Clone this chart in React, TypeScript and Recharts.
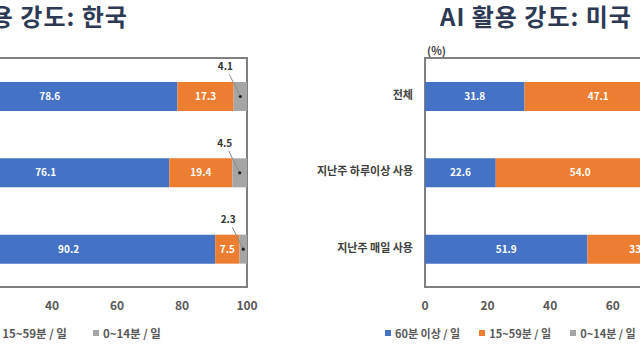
import React from 'react';
import {
  BarChart,
  Bar,
  XAxis,
  YAxis,
  LabelList,
  ReferenceArea,
} from 'recharts';

const categories = ['전체', '지난주 하루이상 사용', '지난주 매일 사용'];
const seriesNames = ['60분 이상 / 일', '15~59분 / 일', '0~14분 / 일'];
const xTicks = [0, 20, 40, 60, 80, 100];

// 한국
const korea60 = [78.6, 76.1, 90.2];
const korea15 = [17.3, 19.4, 7.5];
const korea0 = [4.1, 4.5, 2.3];

// 미국 (오른쪽 잘린 부분은 추정)
const us60 = [31.8, 22.6, 51.9];
const us15 = [47.1, 54.0, 33.4];
const us0 = [21.1, 23.4, 14.7];

const BLUE = '#4472C4';
const ORANGE = '#ED7D31';
const GRAY = '#A5A5A5';
const colors = [BLUE, ORANGE, GRAY];
const FONT = '"Noto Sans CJK KR", "Noto Sans", sans-serif';

const build = (a: number[], b: number[], c: number[]) =>
  categories.map((name, i) => ({ name, s60: a[i], s15: b[i], s0: c[i] }));

const koreaData = build(korea60, korea15, korea0);
const usData = build(us60, us15, us0);

const fmt = (v: any) => Number(v).toFixed(1);

const CalloutLabel = (props: any) => {
  const { x, y, width, height, value } = props;
  const cx = x + width / 2;
  const cy = y + height / 2;
  return (
    <g>
      <line x1={cx - 11} y1={cy - 22} x2={cx} y2={cy} stroke="#8c8c8c" strokeWidth={1} />
      <circle cx={cx} cy={cy} r={1.6} fill="#222" />
      <text
        x={cx - 15}
        y={cy - 29}
        textAnchor="middle"
        dominantBaseline="middle"
        fontSize={10}
        fontWeight={700}
        fill="#333"
        fontFamily={FONT}
      >
        {fmt(value)}
      </text>
    </g>
  );
};

const CategoryTick = (props: any) => {
  const { x, y, payload } = props;
  return (
    <text
      x={x}
      y={y}
      textAnchor="end"
      dominantBaseline="middle"
      fontSize={11}
      fontWeight={700}
      fill="#404040"
      fontFamily={FONT}
    >
      {payload.value}
    </text>
  );
};

const LegendRow = ({ left, gap, size }: { left: number; gap: number; size: number }) => (
  <div
    style={{
      position: 'absolute',
      left,
      top: 325,
      display: 'flex',
      gap,
      fontFamily: FONT,
      fontSize: size,
      fontWeight: 700,
      color: '#595959',
    }}
  >
    {seriesNames.map((n, i) => (
      <div key={n} style={{ display: 'flex', alignItems: 'center', whiteSpace: 'nowrap' }}>
        <span style={{ width: 6, height: 6, background: colors[i], marginRight: 4, display: 'inline-block' }} />
        {n}
      </div>
    ))}
  </div>
);

type PanelProps = {
  data: any[];
  yWidth: number;
  marginLeft: number;
  marginRight: number;
  callout: boolean;
};

const Panel = ({ data, yWidth, marginLeft, marginRight, callout }: PanelProps) => (
  <BarChart
    width={500}
    height={360}
    layout="vertical"
    data={data}
    margin={{ top: 58, right: marginRight, bottom: 40, left: marginLeft }}
  >
    <XAxis
      type="number"
      domain={[0, 100]}
      ticks={xTicks}
      axisLine={false}
      tickLine={false}
      tickSize={0}
      tickMargin={14}
      height={33}
      tick={{ fill: '#595959', fontSize: 12, fontWeight: 700, fontFamily: FONT }}
    />
    <YAxis
      type="category"
      dataKey="name"
      width={yWidth}
      axisLine={false}
      tickLine={false}
      tickSize={0}
      tickMargin={12}
      tick={<CategoryTick />}
    />
    <Bar dataKey="s60" name={seriesNames[0]} stackId="a" fill={BLUE} barSize={29} isAnimationActive={false}>
      <LabelList dataKey="s60" position="center" formatter={fmt} fill="#fff" fontSize={10} fontWeight={700} fontFamily={FONT} />
    </Bar>
    <Bar dataKey="s15" name={seriesNames[1]} stackId="a" fill={ORANGE} barSize={29} isAnimationActive={false}>
      <LabelList dataKey="s15" position="center" formatter={fmt} fill="#fff" fontSize={10} fontWeight={700} fontFamily={FONT} />
    </Bar>
    <Bar dataKey="s0" name={seriesNames[2]} stackId="a" fill={GRAY} barSize={29} isAnimationActive={false}>
      {callout ? (
        <LabelList dataKey="s0" content={CalloutLabel} />
      ) : (
        <LabelList dataKey="s0" position="center" formatter={fmt} fill="#fff" fontSize={10} fontWeight={700} fontFamily={FONT} />
      )}
    </Bar>
    <ReferenceArea x1={0} x2={100} fill="none" stroke="#808080" strokeWidth={2} ifOverflow="visible" />
  </BarChart>
);

const titleStyle: React.CSSProperties = {
  position: 'absolute',
  top: -2,
  fontFamily: FONT,
  fontSize: 24,
  fontWeight: 700,
  color: '#2E3A55',
  whiteSpace: 'nowrap',
  letterSpacing: 1,
};

export default function App() {
  return (
    <div
      style={{
        position: 'fixed',
        left: 0,
        top: 0,
        width: 640,
        height: 360,
        overflow: 'hidden',
        background: '#fff',
      }}
    >
      <div style={{ position: 'absolute', left: -240, top: 0 }}>
        <Panel data={koreaData} yWidth={150} marginLeft={12} marginRight={13} callout />
      </div>
      <div style={{ position: 'absolute', left: 280, top: 0 }}>
        <Panel data={usData} yWidth={145} marginLeft={0} marginRight={42} callout={false} />
      </div>
      <LegendRow left={-112} gap={26} size={11.5} />
      <LegendRow left={385} gap={19} size={11} />
      <div style={{ ...titleStyle, left: -64 }}>AI 활용 강도: 한국</div>
      <div style={{ ...titleStyle, left: 440 }}>AI 활용 강도: 미국</div>
      <div
        style={{
          position: 'absolute',
          left: 427,
          top: 42,
          fontFamily: FONT,
          fontSize: 11,
          fontWeight: 700,
          color: '#404040',
        }}
      >
        (%)
      </div>
    </div>
  );
}
